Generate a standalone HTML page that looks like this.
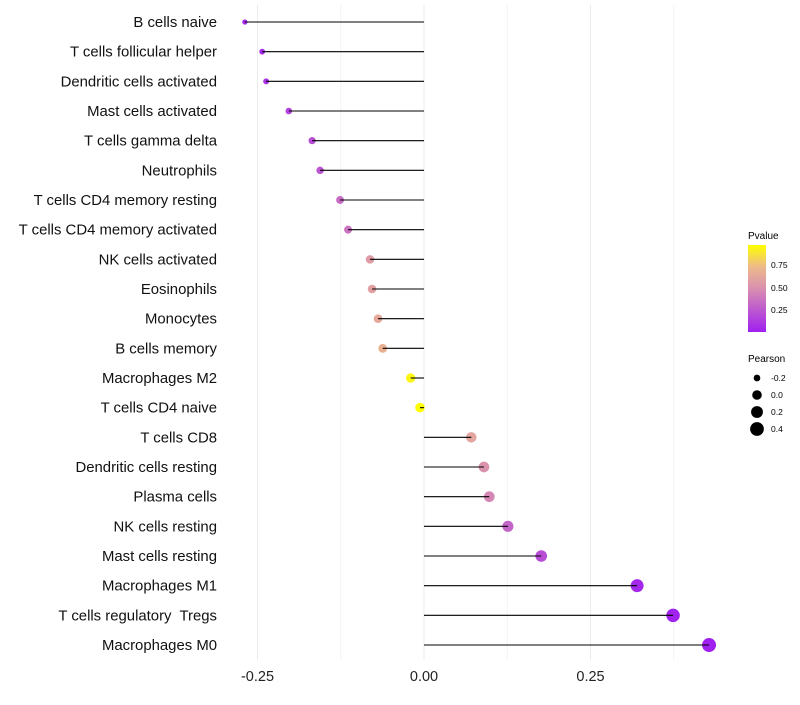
<!DOCTYPE html>
<html><head><meta charset="utf-8"><style>
body{margin:0;background:#fff;}
svg text{font-family:"Liberation Sans",sans-serif;white-space:pre;}
</style></head><body>
<svg id="chart" width="800" height="700" xmlns="http://www.w3.org/2000/svg">
<defs><linearGradient id="pg" x1="0" y1="1" x2="0" y2="0">
<stop offset="0" stop-color="#A020F0"/><stop offset="0.5" stop-color="#D98FB0"/><stop offset="0.75" stop-color="#EDBA8A"/><stop offset="1" stop-color="#FFFF00"/></linearGradient></defs>
<g id="grid"></g><g id="marks"></g><g id="labels"></g>
<g>
<text x="748" y="239" font-size="10" fill="#000">Pvalue</text>
<rect x="748" y="245" width="18" height="87" fill="url(#pg)"/>
<text x="771" y="268" font-size="8.5">0.75</text>
<text x="771" y="291" font-size="8.5">0.50</text>
<text x="771" y="313" font-size="8.5">0.25</text>
</g>
<g id="sleg">
<text x="748" y="362" font-size="10" fill="#000">Pearson</text>
</g>
</svg>
<script>
const categories=["B cells naive","T cells follicular helper","Dendritic cells activated","Mast cells activated","T cells gamma delta","Neutrophils","T cells CD4 memory resting","T cells CD4 memory activated","NK cells activated","Eosinophils","Monocytes","B cells memory","Macrophages M2","T cells CD4 naive","T cells CD8","Dendritic cells resting","Plasma cells","NK cells resting","Mast cells resting","Macrophages M1","T cells regulatory  Tregs","Macrophages M0"];
const pearson=[-0.269,-0.243,-0.237,-0.203,-0.168,-0.156,-0.126,-0.114,-0.081,-0.078,-0.069,-0.062,-0.020,-0.006,0.071,0.090,0.098,0.126,0.176,0.320,0.374,0.428];
const pvalue=[0.04,0.06,0.08,0.15,0.2,0.23,0.32,0.36,0.55,0.57,0.62,0.67,0.93,0.96,0.6,0.5,0.45,0.3,0.2,0.03,0.01,0.0];
const xTicks=[-0.25,0,0.25];
const xTickLabels=["-0.25","0.00","0.25"];
const legendSizes=[-0.2,0.0,0.2,0.4];
const NS="http://www.w3.org/2000/svg";
const x=v=>424+v*666;
const y=i=>22+i*29.667;
const rad=v=>Math.sqrt(Math.max(2.25,10.9+60*(v+0.203)));
function lerp(a,b,t){return a.map((c,i)=>Math.round(c+(b[i]-c)*t));}
function col(p){const t=Math.max(0,Math.min(1,p/0.96));
 const st=[[0,[160,32,240]],[0.5,[217,143,176]],[0.75,[237,186,138]],[1,[255,255,0]]];
 for(let k=1;k<st.length;k++){if(t<=st[k][0]){const c=lerp(st[k-1][1],st[k][1],(t-st[k-1][0])/(st[k][0]-st[k-1][0]));return `rgb(${c})`;}}
 return 'rgb(255,255,0)';}
function mk(tag,attrs,parent){const e=document.createElementNS(NS,tag);for(const k in attrs)e.setAttribute(k,attrs[k]);parent.appendChild(e);return e;}
const grid=document.getElementById('grid'),marks=document.getElementById('marks'),labels=document.getElementById('labels');
[-0.125,0.125,0.375].forEach(v=>{const l=mk('line',{x1:x(v),x2:x(v),y1:5,y2:660,stroke:'#f3f3f3','stroke-width':1},grid);

});
xTicks.forEach((v,i)=>{const l=mk('line',{x1:x(v),x2:x(v),y1:5,y2:660,stroke:'#ebebeb','stroke-width':1},grid);


const t=mk('text',{x:x(v),y:681,'font-size':14.5,'text-anchor':'middle',fill:'#222'},labels);t.textContent=xTickLabels[i];

});
categories.forEach((c,i)=>{
 const t=mk('text',{x:217,y:y(i)+5,'font-size':14.9,'text-anchor':'end',fill:'#111'},labels);t.textContent=c;
 
 
 const d=mk('circle',{cx:x(pearson[i]),cy:y(i),r:rad(pearson[i]),fill:col(pvalue[i])},marks);
 
 
 const l=mk('line',{x1:x(0),x2:x(pearson[i]),y1:y(i),y2:y(i),stroke:'#000','stroke-width':1.1},marks);
 
 
});
const sleg=document.getElementById('sleg');
legendSizes.forEach((v,i)=>{const cy=378+i*17;
 const c=mk('circle',{cx:757,cy:cy,r:rad(v),fill:'#000'},sleg);
 
 
 const t=mk('text',{x:771,y:cy+3,'font-size':8.5},sleg);t.textContent=v.toFixed(1);
 
 });
</script>
</body></html>
